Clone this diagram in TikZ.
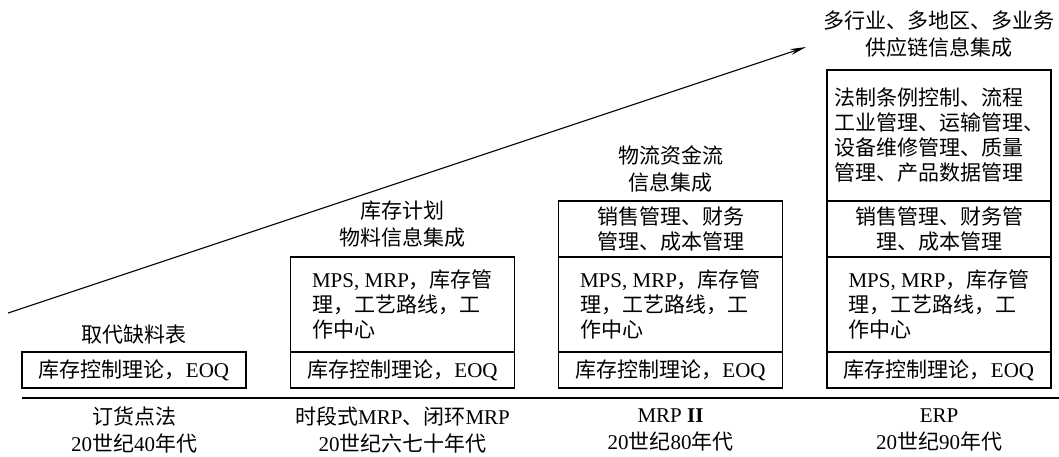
\documentclass[tikz,border=0pt]{standalone}
\usepackage{fontspec}
\setmainfont{Noto Sans CJK SC}
\newfontfamily\latfont{Liberation Serif}
\newcommand\la[1]{{\latfont #1}}
\usetikzlibrary{arrows.meta}
\begin{document}
\begin{tikzpicture}[x=1pt,y=-1pt,
  every node/.style={font=\fontsize{21}{25}\selectfont, inner sep=0pt},
  box/.style={draw, line width=1.2pt, minimum width=224pt, align=center},
  eoqbox/.style={box, minimum height=36pt},
  mpsbox/.style={box, minimum height=95pt},
  salesbox/.style={box, minimum height=56pt},
  legalbox/.style={box, minimum height=131pt},
  inner/.style={align=left},
  lbl/.style={align=center, font=\fontsize{21}{27}\selectfont},
  rule/.style={line width=1.4pt},
  trend/.style={line width=1.1pt, -{Stealth[length=16pt,width=6pt]}}]
\useasboundingbox (0,0) rectangle (1059,456);

% column 1
\node[eoqbox] (e1) at (134,370) {库存控制理论，\la{EOQ}};
\node[lbl] (t1) at (134,335) {取代缺料表};
% column 2
\node[eoqbox] (e2) at (402.5,370) {库存控制理论，\la{EOQ}};
\node[mpsbox] (m2) at (402.5,304.5) {};
\node[inner] (m2t) at (m2.center) {\la{MPS, MRP}，库存管\\理，工艺路线，工\\作中心};
\node[lbl] (t2) at (402.5,224) {库存计划\\物料信息集成};
% column 3
\node[eoqbox] (e3) at (670.5,370) {库存控制理论，\la{EOQ}};
\node[mpsbox] (m3) at (670.5,304.5) {};
\node[inner] (m3t) at (m3.center) {\la{MPS, MRP}，库存管\\理，工艺路线，工\\作中心};
\node[salesbox] (s3) at (670.5,229) {销售管理、财务\\管理、成本管理};
\node[lbl] (t3) at (670.5,169) {物流资金流\\信息集成};
% column 4
\node[eoqbox] (e4) at (939,370) {库存控制理论，\la{EOQ}};
\node[mpsbox] (m4) at (939,304.5) {};
\node[inner] (m4t) at (m4.center) {\la{MPS, MRP}，库存管\\理，工艺路线，工\\作中心};
\node[salesbox] (s4) at (939,229) {销售管理、财务管\\理、成本管理};
\node[legalbox] (g4) at (939,135.5) {};
\node[inner] (g4t) at (g4.center) {法制条例控制、流程\\工业管理、运输管理、\\设备维修管理、质量\\管理、产品数据管理};
\node[lbl] (t4) at (939,34) {多行业、多地区、多业务\\供应链信息集成};

% baseline
\coordinate (r0) at (22,398);
\coordinate (r1) at (1059,398);
\draw[rule] (r0) -- (r1);

% bottom labels
\node[lbl] (b1) at (134,430) {订货点法\\\la{20}世纪\la{40}年代};
\node[lbl] (b2) at (402.5,430) {时段式\la{MRP}、闭环\la{MRP}\\\la{20}世纪六七十年代};
\node[lbl] (b3) at (670.5,430) {\la{MRP \bfseries II}\\\la{20}世纪\la{80}年代};
\node[lbl] (b4) at (939,430) {\la{ERP}\\\la{20}世纪\la{90}年代};

% trend arrow
\coordinate (a0) at (8,313);
\coordinate (a1) at (806,47);
\draw[trend] (a0) -- (a1);
\end{tikzpicture}
\end{document}
